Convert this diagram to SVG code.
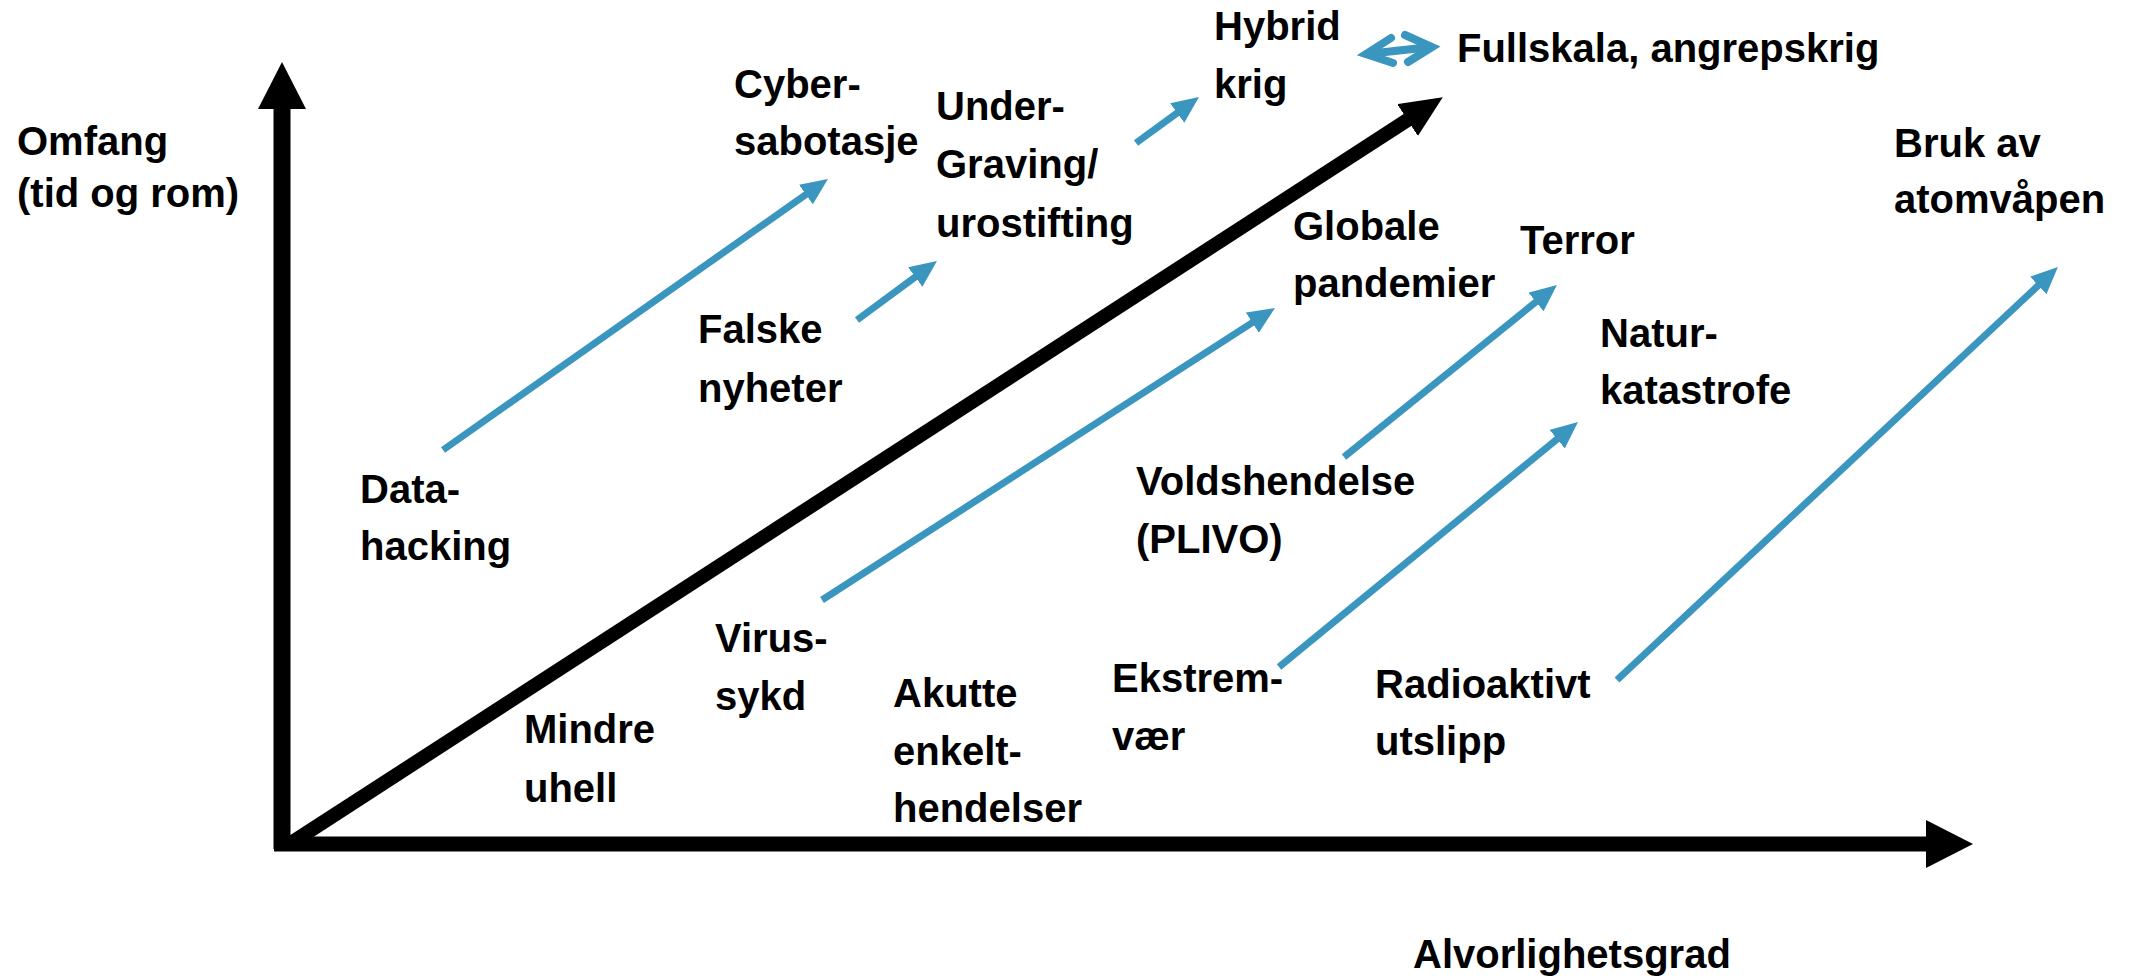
<svg xmlns="http://www.w3.org/2000/svg" width="2142" height="979" viewBox="0 0 2142 979">
  <style>
    text { font-family: "Liberation Sans", Arial, sans-serif; font-weight: bold; font-size: 40px; fill: #000; }
    .blue { stroke: #3A96BE; stroke-width: 7; fill: none; }
    .axis { stroke: #000; fill: none; }
  </style>
  <defs>
    <marker id="bhead" markerUnits="userSpaceOnUse" markerWidth="30" markerHeight="26" viewBox="0 0 30 26" refX="12" refY="12" orient="auto">
      <path d="M0,0 L27,12 L0,24 Z" fill="#3A96BE"/>
    </marker>
    <marker id="khead" markerUnits="userSpaceOnUse" markerWidth="44" markerHeight="40" viewBox="0 0 44 40" refX="22" refY="19" orient="auto">
      <path d="M0,0 L42,19 L0,38 Z" fill="#000"/>
    </marker>
    <marker id="ahead" markerUnits="userSpaceOnUse" markerWidth="50" markerHeight="50" viewBox="0 0 50 50" refX="27" refY="24" orient="auto">
      <path d="M0,0 L47,24 L0,48 Z" fill="#000"/>
    </marker>
  </defs>
  <rect width="2142" height="979" fill="#fff"/>

  <g id="connectors">
    <!-- axes -->
    <line id="y-axis" class="axis" x1="282" y1="849" x2="282" y2="82" stroke-width="17" marker-end="url(#ahead)"/>
    <line id="x-axis" class="axis" x1="274" y1="844" x2="1953" y2="844" stroke-width="15" marker-end="url(#ahead)"/>
    <!-- main diagonal -->
    <line id="diagonal" class="axis" x1="288" y1="845" x2="1426" y2="108" stroke-width="14" marker-end="url(#khead)"/>
    <!-- blue arrows -->
    <line class="blue" x1="443" y1="450" x2="815.7" y2="187.6" marker-end="url(#bhead)"/>
    <line class="blue" x1="857" y1="320" x2="924.9" y2="269.9" marker-end="url(#bhead)"/>
    <line class="blue" x1="1136" y1="143" x2="1186.9" y2="105.9" marker-end="url(#bhead)"/>
    <line class="blue" x1="822" y1="600" x2="1262.4" y2="316.1" marker-end="url(#bhead)"/>
    <line class="blue" x1="1344" y1="457" x2="1545.3" y2="294.4" marker-end="url(#bhead)"/>
    <line class="blue" x1="1279" y1="667" x2="1566.4" y2="431.5" marker-end="url(#bhead)"/>
    <line class="blue" x1="1617" y1="680" x2="2047" y2="277.3" marker-end="url(#bhead)"/>
    <!-- double arrow Hybrid krig <-> Fullskala -->
    <g id="double-arrow" fill="none" stroke="#3A96BE" stroke-width="8" stroke-linecap="round" stroke-linejoin="miter">
      <path d="M1367,54 L1431,47"/>
      <path d="M1391,38 L1366,54 L1393,63"/>
      <path d="M1405,35 L1432,47 L1408,62"/>
    </g>
  </g>

  <g id="omfang"><text x="17" y="155">Omfang</text><text x="17" y="207">(tid og rom)</text></g>
  <g id="alvorlighetsgrad"><text x="1413" y="968">Alvorlighetsgrad</text></g>
  <g id="datahacking"><text x="360" y="503">Data-</text><text x="360" y="560">hacking</text></g>
  <g id="cybersabotasje"><text x="734" y="98">Cyber-</text><text x="734" y="155">sabotasje</text></g>
  <g id="falske-nyheter"><text x="698" y="343">Falske</text><text x="698" y="402">nyheter</text></g>
  <g id="undergraving"><text x="936" y="120">Under-</text><text x="936" y="178">Graving/</text><text x="936" y="237">urostifting</text></g>
  <g id="hybrid-krig"><text x="1214" y="40">Hybrid</text><text x="1214" y="98">krig</text></g>
  <g id="fullskala"><text x="1457" y="62">Fullskala, angrepskrig</text></g>
  <g id="bruk-atomvapen"><text x="1894" y="157">Bruk av</text><text x="1894" y="213">atomvåpen</text></g>
  <g id="globale-pandemier"><text x="1293" y="240">Globale</text><text x="1293" y="297">pandemier</text></g>
  <g id="terror"><text x="1520" y="254">Terror</text></g>
  <g id="naturkatastrofe"><text x="1600" y="347">Natur-</text><text x="1600" y="404">katastrofe</text></g>
  <g id="voldshendelse"><text x="1136" y="495">Voldshendelse</text><text x="1136" y="553">(PLIVO)</text></g>
  <g id="virussykd"><text x="715" y="652">Virus-</text><text x="715" y="710">sykd</text></g>
  <g id="mindre-uhell"><text x="524" y="743">Mindre</text><text x="524" y="802">uhell</text></g>
  <g id="akutte-enkelthendelser"><text x="893" y="707">Akutte</text><text x="893" y="765">enkelt-</text><text x="893" y="822">hendelser</text></g>
  <g id="ekstremvaer"><text x="1112" y="692">Ekstrem-</text><text x="1112" y="750">vær</text></g>
  <g id="radioaktivt-utslipp"><text x="1375" y="698">Radioaktivt</text><text x="1375" y="755">utslipp</text></g>
</svg>
